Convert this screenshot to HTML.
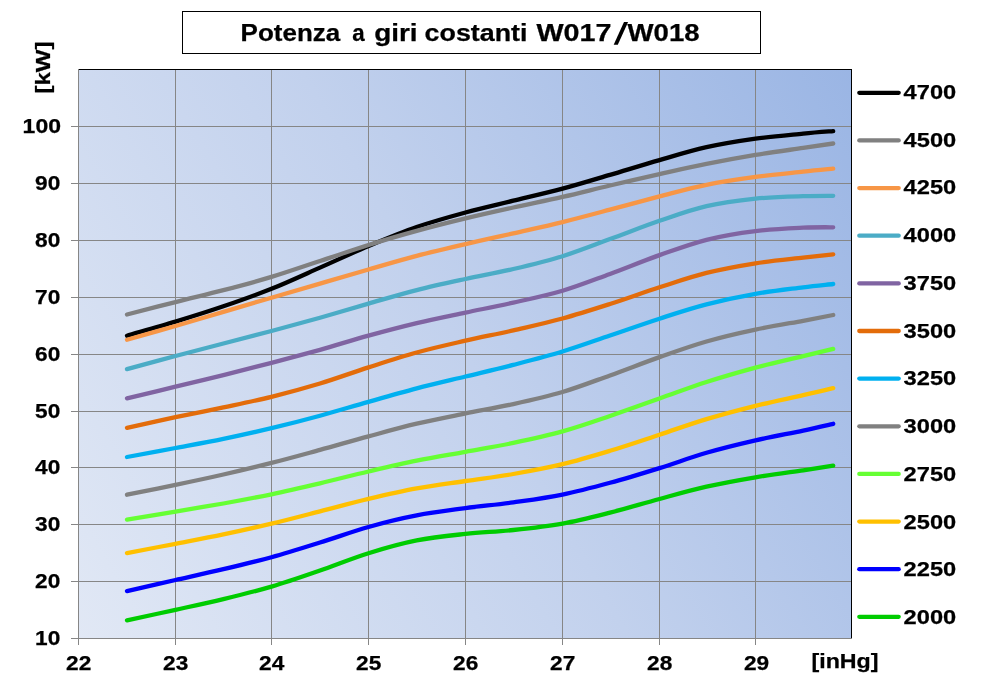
<!DOCTYPE html>
<html><head><meta charset="utf-8"><title>Potenza a giri costanti W017/W018</title>
<style>html,body{margin:0;padding:0;background:#fff;}body{width:1004px;height:689px;overflow:hidden;}svg{display:block;will-change:transform;}text{font-family:"Liberation Sans",sans-serif;font-weight:bold;fill:#000;stroke:#000;stroke-width:0.25;}</style>
</head><body>
<svg width="1004" height="689" viewBox="0 0 1004 689">
<defs><linearGradient id="bg" gradientUnits="userSpaceOnUse" x1="51.3" y1="592.8" x2="878.7" y2="115.2"><stop offset="0" stop-color="#E1E8F5"/><stop offset="0.5" stop-color="#C2D1ED"/><stop offset="1" stop-color="#9AB5E4"/></linearGradient></defs>
<rect x="0" y="0" width="1004" height="689" fill="#ffffff"/>
<rect x="78" y="69" width="774" height="570" fill="url(#bg)"/>
<path d="M175.5 69.5V645.0M271.5 69.5V645.0M368.5 69.5V645.0M465.5 69.5V645.0M562.5 69.5V645.0M659.5 69.5V645.0M755.5 69.5V645.0M71.0 581.5H851.5M71.0 524.5H851.5M71.0 467.5H851.5M71.0 411.5H851.5M71.0 354.5H851.5M71.0 297.5H851.5M71.0 240.5H851.5M71.0 183.5H851.5M71.0 126.5H851.5" stroke="#868686" stroke-width="1" fill="none" shape-rendering="crispEdges"/>
<path d="M78 69.5H852M851.5 69V639" stroke="#000" stroke-width="1" fill="none" shape-rendering="crispEdges"/>
<path d="M78.5 69V645M71 638.5H852" stroke="#868686" stroke-width="1" fill="none" shape-rendering="crispEdges"/>
<g fill="none" stroke-width="4.3" stroke-linecap="round" stroke-linejoin="round">
<path d="M127.0 335.7C135.1 333.3 159.4 326.5 175.5 321.6C191.6 316.7 207.4 311.8 223.4 306.3C239.4 300.8 255.4 295.2 271.5 288.8C287.6 282.4 303.8 274.8 320.0 267.6C336.2 260.5 352.4 252.8 368.5 246.0C384.6 239.3 400.5 232.6 416.7 227.0C432.9 221.5 449.4 216.9 465.5 212.5C481.6 208.1 497.1 204.7 513.3 200.7C529.5 196.8 546.4 193.0 562.5 188.7C578.6 184.4 593.8 179.7 610.0 174.9C626.2 170.1 643.4 164.7 659.5 160.1C675.6 155.4 690.5 150.8 706.5 147.2C722.5 143.7 739.4 141.0 755.5 138.7C771.6 136.4 790.2 134.9 803.2 133.6C816.2 132.3 828.2 131.5 833.2 131.1" stroke="#000000"/>
<path d="M127.0 314.5C135.1 312.4 159.4 306.1 175.5 302.1C191.6 298.0 207.4 294.4 223.4 290.2C239.4 286.0 255.4 281.8 271.5 276.9C287.6 272.0 303.8 266.3 320.0 261.0C336.2 255.7 352.4 250.1 368.5 245.0C384.6 240.0 400.5 235.3 416.7 230.9C432.9 226.4 449.4 222.3 465.5 218.4C481.6 214.5 497.1 211.1 513.3 207.5C529.5 203.9 546.4 200.6 562.5 196.9C578.6 193.3 593.8 189.3 610.0 185.5C626.2 181.7 643.4 177.7 659.5 174.1C675.6 170.5 690.5 167.0 706.5 163.9C722.5 160.7 739.4 157.6 755.5 154.9C771.6 152.3 790.2 149.8 803.2 147.9C816.2 146.0 828.2 144.2 833.2 143.5" stroke="#808080"/>
<path d="M127.0 339.7C135.1 337.4 159.4 330.6 175.5 326.0C191.6 321.4 207.4 316.6 223.4 311.9C239.4 307.2 255.4 302.4 271.5 297.7C287.6 293.0 303.8 288.3 320.0 283.6C336.2 278.9 352.4 274.1 368.5 269.5C384.6 264.8 400.5 260.0 416.7 255.8C432.9 251.6 449.4 247.8 465.5 244.1C481.6 240.3 497.1 237.0 513.3 233.4C529.5 229.7 546.4 226.0 562.5 222.1C578.6 218.1 593.8 214.0 610.0 209.7C626.2 205.4 643.4 200.5 659.5 196.3C675.6 192.2 690.5 188.0 706.5 184.8C722.5 181.5 739.4 179.1 755.5 176.9C771.6 174.7 790.2 173.0 803.2 171.6C816.2 170.2 828.2 169.1 833.2 168.6" stroke="#F79646"/>
<path d="M127.0 369.1C135.1 366.9 159.4 360.3 175.5 356.0C191.6 351.7 207.4 347.7 223.4 343.5C239.4 339.4 255.4 335.3 271.5 331.0C287.6 326.7 303.8 322.2 320.0 317.7C336.2 313.1 352.4 308.2 368.5 303.6C384.6 299.0 400.5 294.2 416.7 290.1C432.9 286.0 449.4 282.5 465.5 279.0C481.6 275.5 497.1 272.8 513.3 269.0C529.5 265.2 546.4 261.2 562.5 256.2C578.6 251.2 593.8 245.0 610.0 239.1C626.2 233.2 643.4 226.3 659.5 220.8C675.6 215.3 690.5 209.8 706.5 206.1C722.5 202.4 739.4 200.3 755.5 198.6C771.6 197.0 790.2 196.6 803.2 196.2C816.2 195.7 828.2 195.8 833.2 195.8" stroke="#4BACC6"/>
<path d="M127.0 398.3C135.1 396.4 159.4 390.6 175.5 386.7C191.6 382.8 207.4 379.0 223.4 375.1C239.4 371.1 255.4 367.1 271.5 362.9C287.6 358.7 303.8 354.3 320.0 349.8C336.2 345.2 352.4 340.1 368.5 335.6C384.6 331.2 400.5 327.0 416.7 323.1C432.9 319.3 449.4 316.0 465.5 312.6C481.6 309.2 497.1 306.3 513.3 302.6C529.5 299.0 546.4 295.5 562.5 290.7C578.6 285.9 593.8 279.8 610.0 273.9C626.2 267.9 643.4 260.8 659.5 255.1C675.6 249.5 690.5 243.9 706.5 239.8C722.5 235.8 739.4 233.1 755.5 231.1C771.6 229.0 790.2 228.3 803.2 227.7C816.2 227.1 828.2 227.3 833.2 227.3" stroke="#8064A2"/>
<path d="M127.0 427.8C135.1 426.0 159.4 420.6 175.5 417.2C191.6 413.8 207.4 410.8 223.4 407.4C239.4 404.0 255.4 400.8 271.5 396.8C287.6 392.8 303.8 388.4 320.0 383.5C336.2 378.6 352.4 372.5 368.5 367.4C384.6 362.2 400.5 356.9 416.7 352.5C432.9 348.0 449.4 344.4 465.5 340.7C481.6 337.0 497.1 334.1 513.3 330.4C529.5 326.6 546.4 322.9 562.5 318.5C578.6 314.1 593.8 309.2 610.0 304.0C626.2 298.8 643.4 292.5 659.5 287.3C675.6 282.1 690.5 276.9 706.5 272.9C722.5 268.9 739.4 265.9 755.5 263.3C771.6 260.8 790.2 259.1 803.2 257.6C816.2 256.1 828.2 254.9 833.2 254.3" stroke="#E36C0A"/>
<path d="M127.0 457.0C135.1 455.5 159.4 451.0 175.5 448.0C191.6 445.0 207.4 442.2 223.4 438.9C239.4 435.6 255.4 432.0 271.5 428.2C287.6 424.3 303.8 420.1 320.0 415.7C336.2 411.3 352.4 406.4 368.5 401.9C384.6 397.3 400.5 392.7 416.7 388.4C432.9 384.2 449.4 380.4 465.5 376.5C481.6 372.6 497.1 369.0 513.3 364.9C529.5 360.7 546.4 356.4 562.5 351.5C578.6 346.6 593.8 341.0 610.0 335.5C626.2 330.0 643.4 323.9 659.5 318.7C675.6 313.5 690.5 308.5 706.5 304.4C722.5 300.2 739.4 296.6 755.5 293.8C771.6 291.0 790.2 289.0 803.2 287.3C816.2 285.7 828.2 284.6 833.2 284.0" stroke="#00B0F0"/>
<path d="M127.0 494.7C135.1 493.0 159.4 488.2 175.5 484.8C191.6 481.5 207.4 478.2 223.4 474.5C239.4 470.9 255.4 467.0 271.5 462.9C287.6 458.8 303.8 454.3 320.0 449.9C336.2 445.5 352.4 440.7 368.5 436.4C384.6 432.0 400.5 427.5 416.7 423.7C432.9 419.9 449.4 416.7 465.5 413.4C481.6 410.2 497.1 407.7 513.3 404.1C529.5 400.5 546.4 396.7 562.5 392.0C578.6 387.2 593.8 381.2 610.0 375.4C626.2 369.6 643.4 362.8 659.5 357.1C675.6 351.5 690.5 346.1 706.5 341.5C722.5 336.9 739.4 333.0 755.5 329.6C771.6 326.1 790.2 323.2 803.2 320.8C816.2 318.3 828.2 316.0 833.2 315.0" stroke="#808080"/>
<path d="M127.0 519.7C135.1 518.3 159.4 514.3 175.5 511.6C191.6 508.9 207.4 506.3 223.4 503.5C239.4 500.6 255.4 497.6 271.5 494.3C287.6 490.9 303.8 487.1 320.0 483.3C336.2 479.5 352.4 475.2 368.5 471.5C384.6 467.7 400.5 463.9 416.7 460.6C432.9 457.3 449.4 454.7 465.5 451.8C481.6 448.8 497.1 446.3 513.3 442.9C529.5 439.5 546.4 435.9 562.5 431.4C578.6 426.9 593.8 421.5 610.0 416.0C626.2 410.5 643.4 404.2 659.5 398.5C675.6 392.9 690.5 387.1 706.5 382.0C722.5 376.8 739.4 372.0 755.5 367.6C771.6 363.3 790.2 359.3 803.2 356.1C816.2 353.0 828.2 350.1 833.2 348.9" stroke="#66FF33"/>
<path d="M127.0 553.1C135.1 551.5 159.4 546.9 175.5 543.8C191.6 540.7 207.4 537.8 223.4 534.4C239.4 531.1 255.4 527.5 271.5 523.7C287.6 519.8 303.8 515.5 320.0 511.3C336.2 507.2 352.4 502.7 368.5 498.9C384.6 495.1 400.5 491.4 416.7 488.4C432.9 485.4 449.4 483.4 465.5 481.0C481.6 478.6 497.1 476.8 513.3 474.0C529.5 471.2 546.4 468.1 562.5 464.2C578.6 460.3 593.8 455.7 610.0 450.8C626.2 445.9 643.4 440.0 659.5 434.7C675.6 429.4 690.5 423.9 706.5 419.1C722.5 414.3 739.4 409.8 755.5 405.8C771.6 401.8 790.2 398.1 803.2 395.1C816.2 392.2 828.2 389.3 833.2 388.1" stroke="#FFC000"/>
<path d="M127.0 591.1C135.1 589.2 159.4 583.6 175.5 580.0C191.6 576.4 207.4 573.0 223.4 569.2C239.4 565.5 255.4 561.7 271.5 557.2C287.6 552.8 303.8 547.6 320.0 542.5C336.2 537.5 352.4 531.5 368.5 527.0C384.6 522.4 400.5 518.5 416.7 515.4C432.9 512.2 449.4 510.3 465.5 508.1C481.6 506.0 497.1 504.6 513.3 502.4C529.5 500.1 546.4 497.9 562.5 494.6C578.6 491.3 593.8 487.2 610.0 482.8C626.2 478.4 643.4 473.1 659.5 468.1C675.6 463.1 690.5 457.4 706.5 452.8C722.5 448.2 739.4 444.1 755.5 440.4C771.6 436.7 790.2 433.4 803.2 430.6C816.2 427.9 828.2 424.9 833.2 423.8" stroke="#0000FF"/>
<path d="M127.0 620.3C135.1 618.5 159.4 613.4 175.5 609.8C191.6 606.3 207.4 603.0 223.4 599.1C239.4 595.2 255.4 591.3 271.5 586.6C287.6 581.8 303.8 576.1 320.0 570.5C336.2 564.9 352.4 558.2 368.5 553.2C384.6 548.2 400.5 543.6 416.7 540.4C432.9 537.1 449.4 535.6 465.5 533.9C481.6 532.2 497.1 531.7 513.3 530.0C529.5 528.3 546.4 526.5 562.5 523.6C578.6 520.8 593.8 516.8 610.0 512.7C626.2 508.6 643.4 503.3 659.5 499.0C675.6 494.6 690.5 490.3 706.5 486.7C722.5 483.1 739.4 480.0 755.5 477.3C771.6 474.6 790.2 472.2 803.2 470.3C816.2 468.4 828.2 466.5 833.2 465.7" stroke="#00CC00"/>
</g>
<rect x="182.5" y="11.5" width="578" height="42" fill="#fff" stroke="#000" stroke-width="1" shape-rendering="crispEdges"/>
<text x="240.60" y="40.8" font-size="23.5" textLength="99.61" lengthAdjust="spacingAndGlyphs">Potenza</text>
<text x="352.20" y="40.8" font-size="23.5" textLength="12.41" lengthAdjust="spacingAndGlyphs">a</text>
<text x="374.20" y="40.8" font-size="23.5" textLength="43.42" lengthAdjust="spacingAndGlyphs">giri</text>
<text x="424.60" y="40.8" font-size="23.5" textLength="102.82" lengthAdjust="spacingAndGlyphs">costanti</text>
<text x="536.40" y="40.8" font-size="23.5" textLength="75.00" lengthAdjust="spacingAndGlyphs">W017</text>
<text x="627.60" y="40.8" font-size="23.5" textLength="72.00" lengthAdjust="spacingAndGlyphs">W018</text>
<path d="M613.7 44.7L624.0 21.9H628.1L617.8 44.7Z" fill="#000"/>
<text x="35.1" y="645.0" font-size="20" textLength="25.2" lengthAdjust="spacingAndGlyphs">10</text>
<text x="35.1" y="588.0" font-size="20" textLength="25.2" lengthAdjust="spacingAndGlyphs">20</text>
<text x="35.1" y="531.0" font-size="20" textLength="25.2" lengthAdjust="spacingAndGlyphs">30</text>
<text x="35.1" y="473.9" font-size="20" textLength="25.2" lengthAdjust="spacingAndGlyphs">40</text>
<text x="35.1" y="417.9" font-size="20" textLength="25.2" lengthAdjust="spacingAndGlyphs">50</text>
<text x="35.1" y="360.9" font-size="20" textLength="25.2" lengthAdjust="spacingAndGlyphs">60</text>
<text x="35.1" y="303.9" font-size="20" textLength="25.2" lengthAdjust="spacingAndGlyphs">70</text>
<text x="35.1" y="246.9" font-size="20" textLength="25.2" lengthAdjust="spacingAndGlyphs">80</text>
<text x="35.1" y="189.9" font-size="20" textLength="25.2" lengthAdjust="spacingAndGlyphs">90</text>
<text x="22.6" y="132.9" font-size="20" textLength="38.4" lengthAdjust="spacingAndGlyphs">100</text>
<text x="66.1" y="670" font-size="20" textLength="25.2" lengthAdjust="spacingAndGlyphs">22</text>
<text x="163.1" y="670" font-size="20" textLength="25.2" lengthAdjust="spacingAndGlyphs">23</text>
<text x="259.1" y="670" font-size="20" textLength="25.2" lengthAdjust="spacingAndGlyphs">24</text>
<text x="356.1" y="670" font-size="20" textLength="25.2" lengthAdjust="spacingAndGlyphs">25</text>
<text x="453.1" y="670" font-size="20" textLength="25.2" lengthAdjust="spacingAndGlyphs">26</text>
<text x="550.1" y="670" font-size="20" textLength="25.2" lengthAdjust="spacingAndGlyphs">27</text>
<text x="647.1" y="670" font-size="20" textLength="25.2" lengthAdjust="spacingAndGlyphs">28</text>
<text x="743.9" y="670" font-size="20" textLength="25.2" lengthAdjust="spacingAndGlyphs">29</text>
<text x="811.5" y="667.8" font-size="20" textLength="67" lengthAdjust="spacingAndGlyphs">[inHg]</text>
<text transform="translate(50.4 93.6) rotate(-90)" x="0" y="0" font-size="20" textLength="52.0" lengthAdjust="spacingAndGlyphs">[kW]</text>
<path d="M859.3 92.8H898.7" stroke="#000000" stroke-width="4.3" stroke-linecap="round" fill="none"/>
<text x="903.6" y="98.9" font-size="20" textLength="52.6" lengthAdjust="spacingAndGlyphs">4700</text>
<path d="M859.3 140.4H898.7" stroke="#808080" stroke-width="4.3" stroke-linecap="round" fill="none"/>
<text x="903.6" y="146.7" font-size="20" textLength="52.6" lengthAdjust="spacingAndGlyphs">4500</text>
<path d="M859.3 188.1H898.7" stroke="#F79646" stroke-width="4.3" stroke-linecap="round" fill="none"/>
<text x="903.6" y="194.4" font-size="20" textLength="52.6" lengthAdjust="spacingAndGlyphs">4250</text>
<path d="M859.3 235.7H898.7" stroke="#4BACC6" stroke-width="4.3" stroke-linecap="round" fill="none"/>
<text x="903.6" y="242.2" font-size="20" textLength="52.6" lengthAdjust="spacingAndGlyphs">4000</text>
<path d="M859.3 283.4H898.7" stroke="#8064A2" stroke-width="4.3" stroke-linecap="round" fill="none"/>
<text x="903.6" y="289.9" font-size="20" textLength="52.6" lengthAdjust="spacingAndGlyphs">3750</text>
<path d="M859.3 331.0H898.7" stroke="#E36C0A" stroke-width="4.3" stroke-linecap="round" fill="none"/>
<text x="903.6" y="337.6" font-size="20" textLength="52.6" lengthAdjust="spacingAndGlyphs">3500</text>
<path d="M859.3 378.6H898.7" stroke="#00B0F0" stroke-width="4.3" stroke-linecap="round" fill="none"/>
<text x="903.6" y="385.4" font-size="20" textLength="52.6" lengthAdjust="spacingAndGlyphs">3250</text>
<path d="M859.3 426.3H898.7" stroke="#808080" stroke-width="4.3" stroke-linecap="round" fill="none"/>
<text x="903.6" y="433.1" font-size="20" textLength="52.6" lengthAdjust="spacingAndGlyphs">3000</text>
<path d="M859.3 473.9H898.7" stroke="#66FF33" stroke-width="4.3" stroke-linecap="round" fill="none"/>
<text x="903.6" y="480.9" font-size="20" textLength="52.6" lengthAdjust="spacingAndGlyphs">2750</text>
<path d="M859.3 521.6H898.7" stroke="#FFC000" stroke-width="4.3" stroke-linecap="round" fill="none"/>
<text x="903.6" y="528.6" font-size="20" textLength="52.6" lengthAdjust="spacingAndGlyphs">2500</text>
<path d="M859.3 569.2H898.7" stroke="#0000FF" stroke-width="4.3" stroke-linecap="round" fill="none"/>
<text x="903.6" y="576.4" font-size="20" textLength="52.6" lengthAdjust="spacingAndGlyphs">2250</text>
<path d="M859.3 616.8H898.7" stroke="#00CC00" stroke-width="4.3" stroke-linecap="round" fill="none"/>
<text x="903.6" y="624.1" font-size="20" textLength="52.6" lengthAdjust="spacingAndGlyphs">2000</text>
</svg></body></html>
